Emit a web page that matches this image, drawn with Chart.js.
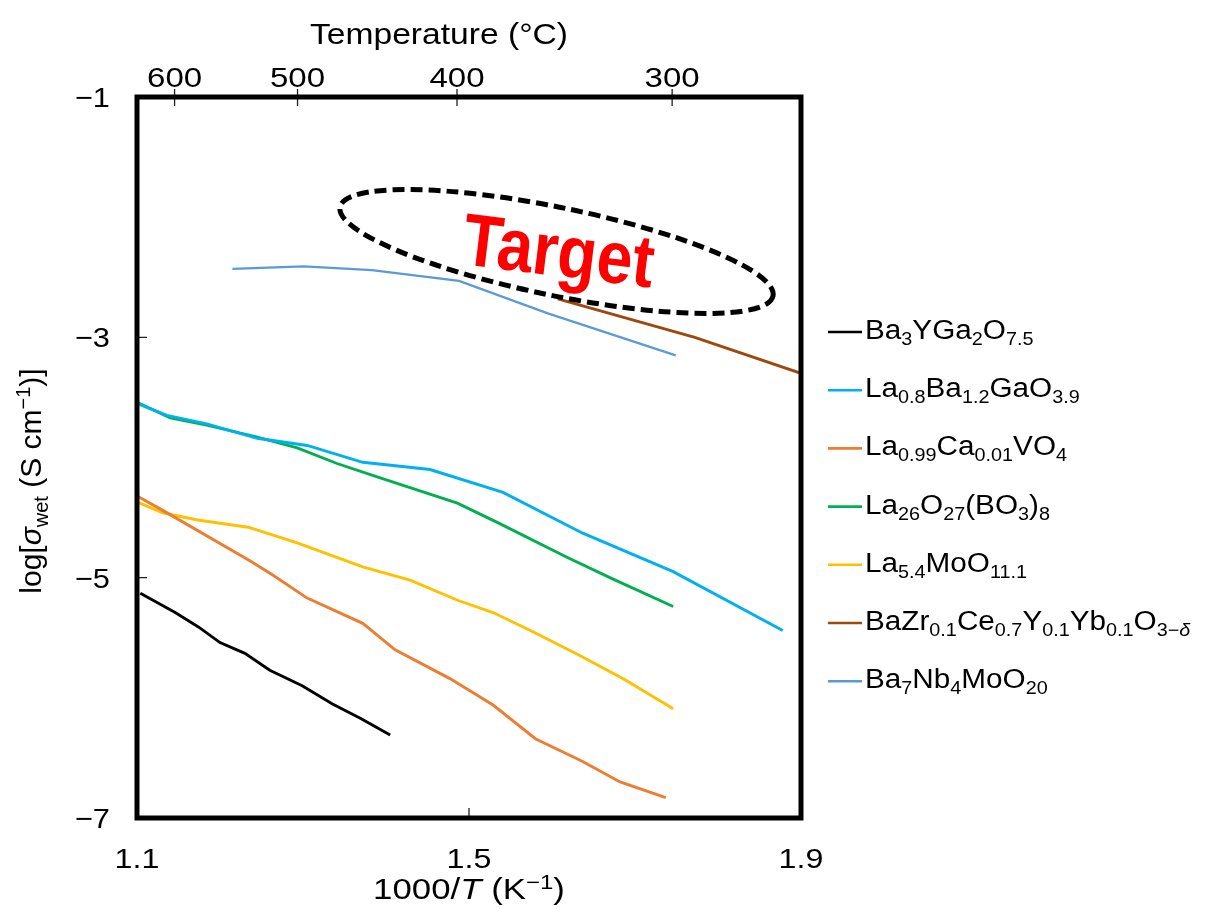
<!DOCTYPE html>
<html>
<head>
<meta charset="utf-8">
<script src="https://cdn.jsdelivr.net/npm/chart.js@4.4.1/dist/chart.umd.min.js"></script>
<style>
  html, body { margin: 0; padding: 0; background: #fff; }
  #wrap { position: relative; width: 1206px; height: 908px; }
</style>
</head>
<body>
<div id="wrap"><canvas id="chart"></canvas></div>
<script>
// axis ticks
const xTicks = [1.1, 1.5, 1.9];
const yTicks = [-1, -3, -5, -7];
const tempTicks = [600, 500, 400, 300]; // °C, top axis

// series (x = 1000/T, y = log sigma)
const ba3ygaX = [1.104, 1.146, 1.174, 1.200, 1.230, 1.260, 1.299, 1.335, 1.369, 1.405];
const ba3ygaY = [-5.13, -5.29, -5.41, -5.54, -5.63, -5.77, -5.90, -6.05, -6.17, -6.31];

const la08X = [1.100, 1.136, 1.184, 1.245, 1.305, 1.372, 1.453, 1.541, 1.637, 1.746, 1.878];
const la08Y = [-3.55, -3.65, -3.72, -3.84, -3.90, -4.04, -4.10, -4.29, -4.63, -4.95, -5.44];

const la099X = [1.100, 1.131, 1.236, 1.264, 1.305, 1.372, 1.411, 1.477, 1.529, 1.580, 1.637, 1.682, 1.737];
const la099Y = [-4.32, -4.44, -4.86, -4.98, -5.17, -5.38, -5.60, -5.84, -6.06, -6.34, -6.53, -6.70, -6.83];

const la26X = [1.100, 1.140, 1.184, 1.245, 1.293, 1.341, 1.393, 1.486, 1.534, 1.618, 1.673, 1.746];
const la26Y = [-3.54, -3.67, -3.73, -3.83, -3.92, -4.05, -4.17, -4.38, -4.54, -4.83, -5.01, -5.24];

const la54X = [1.100, 1.131, 1.173, 1.234, 1.293, 1.372, 1.429, 1.487, 1.529, 1.580, 1.634, 1.688, 1.746];
const la54Y = [-4.37, -4.46, -4.52, -4.58, -4.71, -4.91, -5.02, -5.19, -5.29, -5.46, -5.65, -5.85, -6.09];

const bzcyX = [1.607, 1.772, 1.900];
const bzcyY = [-2.68, -3.00, -3.30];

const ba7X = [1.215, 1.301, 1.383, 1.488, 1.595, 1.749];
const ba7Y = [-2.43, -2.41, -2.44, -2.53, -2.80, -3.15];

const colors = ['#000000', '#00b0f0', '#ed7d31', '#00b050', '#ffc000', '#9e480e', '#5b9bd5'];

// legend labels as [text, style] pieces
const legendParts = [
  [['Ba'], ['3', 'sub'], ['YGa'], ['2', 'sub'], ['O'], ['7.5', 'sub']],
  [['La'], ['0.8', 'sub'], ['Ba'], ['1.2', 'sub'], ['GaO'], ['3.9', 'sub']],
  [['La'], ['0.99', 'sub'], ['Ca'], ['0.01', 'sub'], ['VO'], ['4', 'sub']],
  [['La'], ['26', 'sub'], ['O'], ['27', 'sub'], ['(BO'], ['3', 'sub'], [')'], ['8', 'sub']],
  [['La'], ['5.4', 'sub'], ['MoO'], ['11.1', 'sub']],
  [['BaZr'], ['0.1', 'sub'], ['Ce'], ['0.7', 'sub'], ['Y'], ['0.1', 'sub'], ['Yb'], ['0.1', 'sub'], ['O'], ['3\u2212', 'sub'], ['\u03b4', 'subi']],
  [['Ba'], ['7', 'sub'], ['Nb'], ['4', 'sub'], ['MoO'], ['20', 'sub']]
];

// "Target" annotation (data units)
const ellipseEnds = [[1.3446, -1.915], [1.8663, -2.656]];
const targetAt = [1.6084, -2.265];

const FONT = '"Liberation Sans", Arial, sans-serif';

function pts(xs, ys) {
  return xs.map((x, i) => ({ x: x, y: ys[i] }));
}

function fontFor(kind, size) {
  const k = kind || '';
  const s = (k.indexOf('sub') >= 0 || k.indexOf('sup') >= 0) ? Math.round(size * 0.68) : size;
  return (k.indexOf('i') >= 0 ? 'italic ' : '') + s + 'px ' + FONT;
}

function drawRich(ctx, parts, x, y, size, sx, align) {
  ctx.save();
  ctx.textBaseline = 'alphabetic';
  ctx.textAlign = 'left';
  let total = 0;
  parts.forEach(p => { ctx.font = fontFor(p[1], size); total += ctx.measureText(p[0]).width; });
  let cx = align === 'center' ? -total / 2 : (align === 'right' ? -total : 0);
  ctx.translate(x, y);
  ctx.scale(sx, 1);
  parts.forEach(p => {
    const k = p[1] || '';
    ctx.font = fontFor(k, size);
    let dy = 0;
    if (k.indexOf('sub') >= 0) dy = size * 0.22;
    if (k.indexOf('sup') >= 0) dy = -size * 0.36;
    ctx.fillText(p[0], cx, dy);
    cx += ctx.measureText(p[0]).width;
  });
  ctx.restore();
}

function minus(v) {
  return v < 0 ? '\u2212' + Math.abs(v) : String(v);
}

const series = [
  [ba3ygaX, ba3ygaY], [la08X, la08Y], [la099X, la099Y], [la26X, la26Y],
  [la54X, la54Y], [bzcyX, bzcyY], [ba7X, ba7Y]
];

const datasets = series.map((s, i) => ({
  data: pts(s[0], s[1]),
  borderColor: colors[i],
  backgroundColor: colors[i],
  borderWidth: i === 6 ? 2.3 : 2.9,
  showLine: true,
  pointRadius: 0,
  tension: 0,
  fill: false
}));

const decor = {
  id: 'decor',
  beforeDraw(chart) {
    const ctx = chart.ctx;
    ctx.save();
    ctx.fillStyle = '#fff';
    ctx.fillRect(0, 0, chart.width, chart.height);
    ctx.restore();
  },
  afterDatasetsDraw(chart) {
    const ctx = chart.ctx;
    const xs = chart.scales.x, ys = chart.scales.y;
    // dashed ellipse
    const p1 = [xs.getPixelForValue(ellipseEnds[0][0]), ys.getPixelForValue(ellipseEnds[0][1])];
    const p2 = [xs.getPixelForValue(ellipseEnds[1][0]), ys.getPixelForValue(ellipseEnds[1][1])];
    const cxp = (p1[0] + p2[0]) / 2, cyp = (p1[1] + p2[1]) / 2;
    const a = Math.hypot(p2[0] - p1[0], p2[1] - p1[1]) / 2;
    const ang = Math.atan2(p2[1] - p1[1], p2[0] - p1[0]);
    ctx.save();
    ctx.strokeStyle = '#000';
    ctx.lineWidth = 5;
    ctx.setLineDash([12, 6]);
    ctx.beginPath();
    ctx.ellipse(cxp, cyp, a, 44, ang, 0, Math.PI * 2);
    ctx.stroke();
    ctx.restore();

    // Target label
    ctx.save();
    ctx.translate(xs.getPixelForValue(targetAt[0]), ys.getPixelForValue(targetAt[1]));
    ctx.rotate(7 * Math.PI / 180);
    ctx.scale(0.87, 1);
    ctx.fillStyle = '#ff0000';
    ctx.font = 'bold 74px ' + FONT;
    ctx.textAlign = 'center';
    ctx.textBaseline = 'alphabetic';
    ctx.fillText('Target', 0, 27);
    ctx.restore();
  },
  afterDraw(chart) {
    const ctx = chart.ctx;
    const area = chart.chartArea;
    const xs = chart.scales.x, ys = chart.scales.y, xt = chart.scales.x2;
    ctx.save();
    ctx.fillStyle = '#000';

    // tick marks
    ctx.strokeStyle = '#222';
    ctx.lineWidth = 1.3;
    ctx.beginPath();
    yTicks.forEach(v => {
      const y = ys.getPixelForValue(v);
      ctx.moveTo(area.left, y); ctx.lineTo(area.left + 10, y);
    });
    xTicks.forEach(v => {
      const x = xs.getPixelForValue(v);
      ctx.moveTo(x, area.bottom); ctx.lineTo(x, area.bottom - 10);
    });
    tempTicks.forEach(t => {
      const x = xt.getPixelForValue(1000 / (t + 273.15));
      ctx.moveTo(x, area.top - 8); ctx.lineTo(x, area.top + 9);
    });
    ctx.stroke();

    // frame
    ctx.strokeStyle = '#000';
    ctx.lineWidth = 5;
    ctx.strokeRect(area.left, area.top, area.right - area.left, area.bottom - area.top);

    // tick labels
    yTicks.forEach(v => {
      drawRich(ctx, [[minus(v)]], area.left - 27, ys.getPixelForValue(v) + 10, 28, 1.1, 'right');
    });
    xTicks.forEach(v => {
      drawRich(ctx, [[String(v)]], xs.getPixelForValue(v), area.bottom + 50, 28, 1.15, 'center');
    });
    tempTicks.forEach(t => {
      drawRich(ctx, [[String(t)]], xt.getPixelForValue(1000 / (t + 273.15)), area.top - 10, 28, 1.18, 'center');
    });

    // axis titles
    drawRich(ctx, [['Temperature (\u00b0C)']], 439, 44, 30, 1.12, 'center');
    drawRich(ctx, [['1000/'], ['T', 'i'], [' (K'], ['\u22121', 'sup'], [')']], (area.left + area.right) / 2, area.bottom + 81, 29, 1.2, 'center');
    ctx.save();
    ctx.translate(41, 481);
    ctx.rotate(-Math.PI / 2);
    drawRich(ctx, [['log['], ['\u03c3', 'i'], ['wet', 'sub'], [' (S cm'], ['\u22121', 'sup'], [')]']], 0, 0, 30, 1.0, 'center');
    ctx.restore();

    // legend
    legendParts.forEach((parts, i) => {
      const base = 339 + i * 58.2;
      ctx.strokeStyle = colors[i];
      ctx.lineWidth = 2.6;
      ctx.beginPath();
      ctx.moveTo(area.right + 27, base - 7);
      ctx.lineTo(area.right + 61, base - 7);
      ctx.stroke();
      drawRich(ctx, parts, area.right + 64, base, 27, 1.1, 'left');
    });
    ctx.restore();
  }
};

new Chart(document.getElementById('chart'), {
  type: 'scatter',
  data: { datasets: datasets },
  options: {
    responsive: true,
    maintainAspectRatio: false,
    animation: false,
    events: [],
    layout: { padding: { left: 0, top: 0, right: 405, bottom: 0 } },
    plugins: { legend: { display: false }, tooltip: { enabled: false } },
    scales: {
      x: {
        type: 'linear', position: 'bottom', min: 1.1, max: 1.9,
        afterBuildTicks: s => { s.ticks = xTicks.map(v => ({ value: v })); },
        afterFit: s => { s.height = 90; },
        ticks: { display: false }, grid: { display: false }, border: { display: false }
      },
      x2: {
        type: 'linear', position: 'top', min: 1.1, max: 1.9,
        afterBuildTicks: s => { s.ticks = tempTicks.map(t => ({ value: 1000 / (t + 273.15) })); },
        afterFit: s => { s.height = 97; },
        ticks: { display: false }, grid: { display: false }, border: { display: false }
      },
      y: {
        type: 'linear', position: 'left', min: -7, max: -1,
        afterBuildTicks: s => { s.ticks = yTicks.map(v => ({ value: v })); },
        afterFit: s => { s.width = 137; },
        ticks: { display: false }, grid: { display: false }, border: { display: false }
      }
    }
  },
  plugins: [decor]
});
</script>
</body>
</html>
